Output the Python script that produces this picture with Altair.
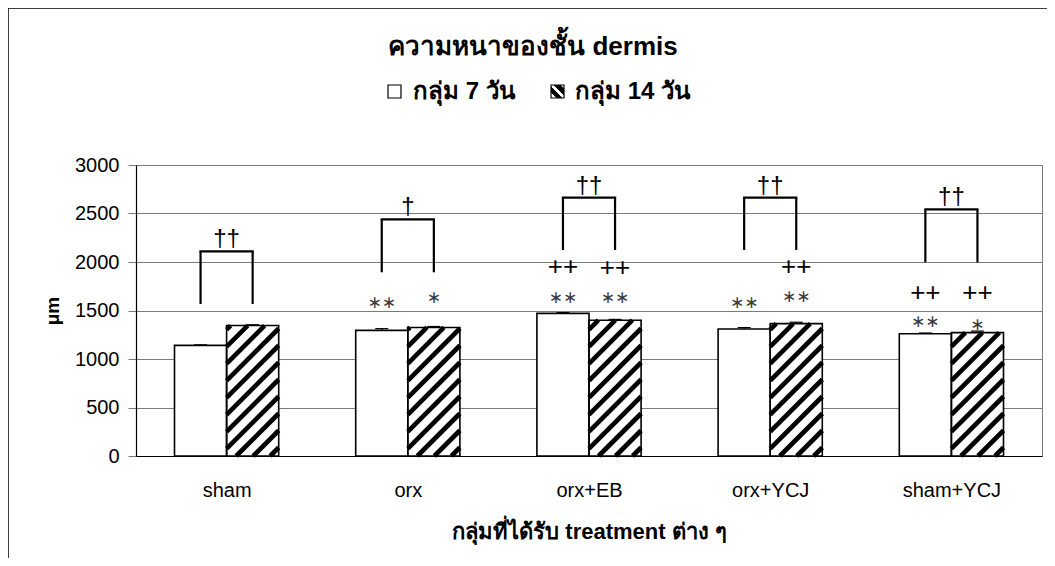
import json
import altair as alt
import pandas as pd

# ---------------- data ----------------
groups = ["sham", "orx", "orx+EB", "orx+YCJ", "sham+YCJ"]
series = ["กลุ่ม 7 วัน", "กลุ่ม 14 วัน"]
day7 = [1140, 1295, 1470, 1310, 1260]
day14 = [1345, 1325, 1400, 1365, 1272]
se7 = [6, 18, 8, 14, 8]
se14 = [8, 10, 8, 14, 16]
bracket_top = [2110, 2440, 2663, 2663, 2543]
bracket_leg = [1567, 1894, 2124, 2124, 1997]
dagger = ["††", "†", "††", "††", "††"]
star7 = ["", "∗∗", "∗∗", "∗∗", "∗∗"]
star7_y = [0, 1577, 1632, 1580, 1381]
star14 = ["", "∗", "∗∗", "∗∗", "∗"]
star14_y = [0, 1626, 1632, 1642, 1350]
plus7 = ["", "", "++", "", "++"]
plus7_y = [0, 0, 1948, 0, 1680]
plus14 = ["", "", "++", "++", "++"]
plus14_y = [0, 0, 1938, 1948, 1680]

title_text = "ความหนาของชั้น dermis"
x_title = "กลุ่มที่ได้รับ treatment ต่าง ๆ"
y_title = "μm"

# ---------------- layout ----------------
W, H = 906, 291
YMAX = 3000
sx = W / len(groups)        # px per category unit
sy = H / YMAX               # px per value unit
HW = 0.2875                 # bar width in category units

FONT = "Liberation Sans, Arial, DejaVu Sans, sans-serif"

xs = alt.Scale(domain=[-0.5, len(groups) - 0.5], nice=False, zero=False)
ys = alt.Scale(domain=[0, YMAX], nice=False)

rows = []
for i, g in enumerate(groups):
    rows.append(dict(g=g, i=i, s=series[0], v=day7[i], se=day7[i] + se7[i],
                     x0=i - HW, x1=i, xc=i - HW / 2))
    rows.append(dict(g=g, i=i, s=series[1], v=day14[i], se=day14[i] + se14[i],
                     x0=i, x1=i + HW, xc=i + HW / 2))
for r in rows:
    r["cl"] = r["xc"] - 6.5 / sx
    r["cr"] = r["xc"] + 6.5 / sx
bars = pd.DataFrame(rows)

# hatch segments for the 14-day bars (derived from bar heights)
P = 17.0
Wpx = HW * sx
hatch = []
for i in range(len(groups)):
    Hpx = day14[i] * sy
    c = -Wpx + P * 0.5
    while c < Hpx:
        X0 = max(0.0, -c)
        X1 = min(Wpx, Hpx - c)
        if X1 > X0:
            hatch.append(dict(x=i + X0 / sx, x2=i + X1 / sx,
                              y=(X0 + c) / sy, y2=(X1 + c) / sy))
        c += P
hatch = pd.DataFrame(hatch)

br = pd.DataFrame(dict(i=list(range(len(groups))), top=bracket_top, leg=bracket_leg, d=dagger,
                       l=[k - HW / 2 for k in range(len(groups))],
                       r=[k + HW / 2 for k in range(len(groups))]))

ann = []
for i in range(len(groups)):
    for t, y, xo in [(star7[i], star7_y[i], -HW / 2), (star14[i], star14_y[i], HW / 2)]:
        if t:
            ann.append(dict(x=i + xo, y=y, t=t, k="star"))
    for t, y, xo in [(plus7[i], plus7_y[i], -HW / 2), (plus14[i], plus14_y[i], HW / 2)]:
        if t:
            ann.append(dict(x=i + xo, y=y, t=t, k="plus"))
ann = pd.DataFrame(ann)

labels_js = json.dumps(groups, ensure_ascii=False)

xaxis = alt.Axis(values=list(range(len(groups))), labelExpr=f"{labels_js}[datum.value]",
                 ticks=False, grid=False, domainColor="black", domainWidth=1.2,
                 labelFontSize=20, labelFont=FONT, labelColor="black", labelPadding=24,
                 title=x_title, titleFontSize=22, titleFont=FONT, titleFontWeight="bold",
                 titleColor="black", titlePadding=21)
yaxis = alt.Axis(values=list(range(0, YMAX + 1, 500)), format="d", grid=True,
                 gridColor="#7a7a7a", gridWidth=1, tickColor="#7a7a7a", tickSize=8,
                 domainColor="black", domainWidth=1.2, labelFontSize=20, labelFont=FONT,
                 labelColor="black", labelPadding=9, title=y_title, titleFontSize=19,
                 titleFont=FONT, titleFontWeight="bold", titleColor="black", titlePadding=12)

base = alt.Chart(bars)

bar_fill = base.mark_rect(fill="white", stroke=None).encode(
    x=alt.X("x0:Q", scale=xs, axis=xaxis), x2="x1:Q",
    y=alt.Y("v:Q", scale=ys, axis=yaxis), y2=alt.datum(0))

hatch_l = alt.Chart(hatch).mark_rule(color="black", strokeWidth=4.6, strokeCap="butt").encode(
    x=alt.X("x:Q", scale=xs), x2="x2:Q", y=alt.Y("y:Q", scale=ys), y2="y2:Q")

bar_line = base.mark_rect(fill=None, stroke="black", strokeWidth=1.6).encode(
    x=alt.X("x0:Q", scale=xs), x2="x1:Q", y=alt.Y("v:Q", scale=ys), y2=alt.datum(0))

err = base.mark_rule(color="black", strokeWidth=1.2).encode(
    x=alt.X("xc:Q", scale=xs), y=alt.Y("v:Q", scale=ys), y2="se:Q")
cap = base.mark_rule(color="black", strokeWidth=1.2).encode(
    x=alt.X("cl:Q", scale=xs), x2="cr:Q", y=alt.Y("se:Q", scale=ys))

bb = alt.Chart(br)
leg_l = bb.mark_rule(color="black", strokeWidth=2.2).encode(
    x=alt.X("l:Q", scale=xs), y=alt.Y("leg:Q", scale=ys), y2="top:Q")
leg_r = bb.mark_rule(color="black", strokeWidth=2.2).encode(
    x=alt.X("r:Q", scale=xs), y=alt.Y("leg:Q", scale=ys), y2="top:Q")
top_r = bb.mark_rule(color="black", strokeWidth=2.2, strokeCap="square").encode(
    x=alt.X("l:Q", scale=xs), x2="r:Q", y=alt.Y("top:Q", scale=ys))
dag = bb.mark_text(font=FONT, fontSize=24, baseline="bottom", dy=0, color="black").encode(
    x=alt.X("i:Q", scale=xs), y=alt.Y("top:Q", scale=ys), text="d:N")

stars = alt.Chart(ann).transform_filter("datum.k == 'star'").mark_text(
    font="DejaVu Sans", fontSize=17, baseline="middle", color="#3a3a3a").encode(
    x=alt.X("x:Q", scale=xs), y=alt.Y("y:Q", scale=ys), text="t:N")
pluses = alt.Chart(ann).transform_filter("datum.k == 'plus'").mark_text(
    font=FONT, fontSize=26, baseline="middle", color="black").encode(
    x=alt.X("x:Q", scale=xs), y=alt.Y("y:Q", scale=ys), text="t:N")

one = pd.DataFrame({"t": [title_text]})
title_m = alt.Chart(one).mark_text(font=FONT, fontSize=26, fontWeight="bold",
                                   baseline="middle", align="center", color="black").encode(
    x=alt.value(397), y=alt.value(-118), text="t:N")

leg_df = pd.DataFrame({"s": series})
leg1_box = alt.Chart(leg_df).transform_filter(f"datum.s == '{series[0]}'").mark_rect(
    fill="white", stroke="black", strokeWidth=1.2).encode(
    x=alt.value(252), x2=alt.value(265), y=alt.value(-80), y2=alt.value(-67))
leg2_box = alt.Chart(leg_df).transform_filter(f"datum.s == '{series[1]}'").mark_rect(
    fill={"gradient": "linear", "x1": 0, "y1": 1, "x2": 1, "y2": 0,
          "stops": [{"offset": 0, "color": "white"}, {"offset": 0.2, "color": "white"},
                    {"offset": 0.2, "color": "black"}, {"offset": 0.45, "color": "black"},
                    {"offset": 0.45, "color": "white"}, {"offset": 0.6, "color": "white"},
                    {"offset": 0.6, "color": "black"}, {"offset": 0.85, "color": "black"},
                    {"offset": 0.85, "color": "white"}, {"offset": 1, "color": "white"}]},
    stroke="black", strokeWidth=1.2).encode(
    x=alt.value(415), x2=alt.value(428), y=alt.value(-80), y2=alt.value(-67))
leg1_txt = alt.Chart(leg_df).transform_filter(f"datum.s == '{series[0]}'").mark_text(
    font=FONT, fontSize=24, fontWeight="bold", align="left", baseline="middle",
    color="black").encode(x=alt.value(277), y=alt.value(-73), text="s:N")
leg2_txt = alt.Chart(leg_df).transform_filter(f"datum.s == '{series[1]}'").mark_text(
    font=FONT, fontSize=24, fontWeight="bold", align="left", baseline="middle",
    color="black").encode(x=alt.value(439), y=alt.value(-73), text="s:N")

frame_l = alt.Chart(one).mark_rule(color="black", strokeWidth=1.5).encode(
    x=alt.value(-128), y=alt.value(-157), y2=alt.value(400))
frame_t = alt.Chart(one).mark_rule(color="black", strokeWidth=1.5).encode(
    x=alt.value(-128), x2=alt.value(930), y=alt.value(-157))

chart = alt.layer(
    frame_l, frame_t, title_m, leg1_box, leg2_box, leg1_txt, leg2_txt,
    bar_fill, hatch_l, bar_line, err, cap,
    leg_l, leg_r, top_r, dag, stars, pluses,
).properties(
    width=W, height=H,
    autosize=alt.AutoSizeParams(type="none"),
    padding={"left": 128, "top": 157, "right": 5, "bottom": 102},
).configure_view(stroke="#7a7a7a", strokeWidth=1)

chart.save("out.html", embed_options={"renderer": "svg", "actions": False})
